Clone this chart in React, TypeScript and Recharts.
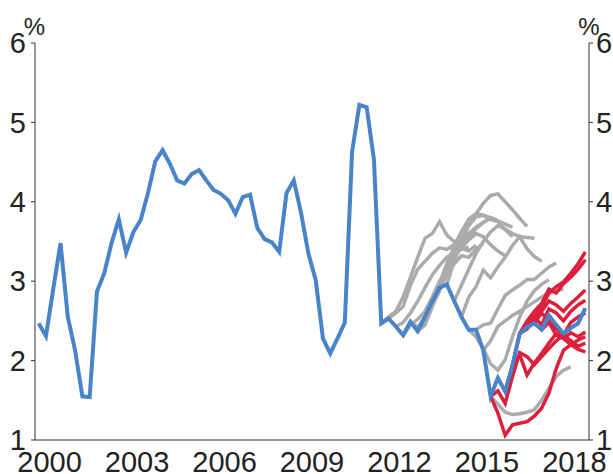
import { LineChart, Line, XAxis, YAxis } from 'recharts';

// year boundaries carry the tick marks, labels sit in the middle of the year
const yearTicks = [2000, 2001, 2002, 2003, 2004, 2005, 2006, 2007, 2008, 2009, 2010, 2011, 2012, 2013, 2014, 2015, 2016, 2017, 2018, 2019];
const yearLabels = [2000, 2003, 2006, 2009, 2012, 2015, 2018];
const valueTicks = [1, 2, 3, 4, 5, 6];

// quarterly outcome, 2000Q1 .. 2018Q4
const actual = [
  2.47, 2.31, 2.9, 3.48, 2.55, 2.13, 1.55, 1.54, 2.87, 3.1, 3.48, 3.78,
  3.36, 3.62, 3.77, 4.11, 4.51, 4.65, 4.48, 4.27, 4.23, 4.35, 4.4, 4.27,
  4.15, 4.1, 4.02, 3.85, 4.06, 4.09, 3.67, 3.53, 3.49, 3.37, 4.11, 4.27,
  3.86, 3.35, 3.02, 2.28, 2.09, 2.28, 2.48, 4.63, 5.22, 5.19, 4.53, 2.47,
  2.53, 2.43, 2.32, 2.49, 2.37, 2.55, 2.75, 2.92, 2.96, 2.75, 2.55, 2.39,
  2.39, 2.13, 1.55, 1.78, 1.61, 1.94, 2.34, 2.42, 2.47, 2.39, 2.57, 2.45,
  2.34, 2.41, 2.47, 2.66,
];

// older forecasts (grey), each starting from the quarter named
const grey2011Q4 = [2.47, 2.55, 2.62, 2.8, 3.05, 3.3, 3.54, 3.6, 3.75, 3.58, 3.5, 3.45];
const grey2012Q1 = [2.53, 2.6, 2.68, 2.95, 3.15, 3.25, 3.35, 3.42, 3.4, 3.46, 3.4, 3.43];
const grey2012Q2 = [2.43, 2.48, 2.6, 2.75, 2.92, 3.08, 3.2, 3.3, 3.36, 3.42, 3.38, 3.45];
const grey2012Q3 = [2.32, 2.45, 2.52, 2.62, 2.8, 3.0, 3.12, 3.22, 3.32, 3.3, 3.4, 3.48];
const grey2012Q4 = [2.49, 2.42, 2.55, 2.75, 2.98, 3.22, 3.38, 3.5, 3.6, 3.68, 3.74, 3.8];
const grey2013Q1 = [2.37, 2.45, 2.68, 2.88, 3.1, 3.3, 3.45, 3.56, 3.66, 3.74, 3.8, 3.76];
const grey2013Q2 = [2.55, 2.72, 2.9, 3.1, 3.3, 3.42, 3.52, 3.6, 3.56, 3.46, 3.38, 3.32];
const grey2013Q3 = [2.75, 2.95, 3.2, 3.45, 3.62, 3.78, 3.85, 3.83, 3.8, 3.76, 3.72, 3.68];
const grey2013Q4 = [2.92, 3.12, 3.35, 3.55, 3.7, 3.81, 3.83, 3.78, 3.75, 3.65, 3.56];
const grey2014Q1 = [2.96, 3.25, 3.5, 3.7, 3.85, 3.98, 4.08, 4.1, 4.0, 3.9, 3.79, 3.69];
const grey2014Q2 = [2.75, 2.95, 3.15, 3.35, 3.5, 3.62, 3.7, 3.66, 3.6, 3.56, 3.55, 3.54];
const grey2014Q3 = [2.55, 2.8, 2.93, 3.14, 3.04, 3.18, 3.3, 3.45, 3.56, 3.41, 3.31, 3.25];
const grey2014Q4 = [2.39, 2.3, 2.15, 1.96, 1.88, 2.01, 2.3, 2.55, 2.75, 2.88, 2.96, 3.02];
const grey2015Q1 = [2.39, 2.45, 2.47, 2.65, 2.82, 2.89, 2.95, 3.02, 3.02, 3.1, 3.18, 3.23];
const grey2015Q2 = [2.13, 2.25, 2.43, 2.5, 2.57, 2.62, 2.68, 2.74, 2.8, 2.85, 2.88, 2.9];
const grey2015Q3 = [1.55, 1.45, 1.35, 1.32, 1.33, 1.35, 1.38, 1.5, 1.65, 1.8, 1.88, 1.92];

// recent forecasts (red)
const red2015Q3a = [1.55, 1.34, 1.06, 1.19, 1.21, 1.23, 1.3, 1.4, 1.59, 1.9, 2.13, 2.2, 2.26, 2.3];
const red2015Q3b = [1.55, 1.62, 1.46, 1.8, 2.1, 2.05, 1.95, 2.05, 2.15, 2.25, 2.32, 2.25, 2.18, 2.22];
const red2016Q1 = [1.61, 1.94, 2.07, 1.82, 1.97, 2.09, 2.22, 2.34, 2.28, 2.2, 2.14, 2.11];
const red2016Q2 = [1.94, 2.35, 2.45, 2.55, 2.68, 2.85, 2.93, 2.99, 3.1, 3.22, 3.37];
const red2016Q3a = [2.34, 2.5, 2.62, 2.72, 2.9, 2.85, 2.97, 3.05, 3.15, 3.27];
const red2016Q3b = [2.34, 2.4, 2.52, 2.62, 2.75, 2.7, 2.62, 2.72, 2.8, 2.89];
const red2016Q4 = [2.42, 2.55, 2.45, 2.65, 2.6, 2.5, 2.62, 2.7, 2.76];
const red2017Q1 = [2.47, 2.6, 2.5, 2.4, 2.32, 2.48, 2.55, 2.6];
const red2017Q2 = [2.39, 2.48, 2.32, 2.28, 2.35, 2.3, 2.36];

const greyRuns: [string, number[]][] = [
  ['2011Q4', grey2011Q4], ['2012Q1', grey2012Q1], ['2012Q2', grey2012Q2], ['2012Q3', grey2012Q3],
  ['2012Q4', grey2012Q4], ['2013Q1', grey2013Q1], ['2013Q2', grey2013Q2], ['2013Q3', grey2013Q3],
  ['2013Q4', grey2013Q4], ['2014Q1', grey2014Q1], ['2014Q2', grey2014Q2], ['2014Q3', grey2014Q3],
  ['2014Q4', grey2014Q4], ['2015Q1', grey2015Q1], ['2015Q2', grey2015Q2], ['2015Q3', grey2015Q3],
];
const redRuns: [string, number[]][] = [
  ['2015Q3', red2015Q3a], ['2015Q3', red2015Q3b], ['2016Q1', red2016Q1], ['2016Q2', red2016Q2],
  ['2016Q3', red2016Q3a], ['2016Q3', red2016Q3b], ['2016Q4', red2016Q4], ['2017Q1', red2017Q1],
  ['2017Q2', red2017Q2],
];

const quarterIndex = (q: string) => (Number(q.slice(0, 4)) - 2000) * 4 + Number(q.slice(5)) - 1;

const rows = actual.map((v, i) => {
  const row: Record<string, number | null> = { x: 2000 + (i + 0.5) / 4, actual: v };
  greyRuns.forEach(([from, vals], k) => {
    const j = i - quarterIndex(from);
    row[`g${k}`] = j >= 0 && j < vals.length ? vals[j] : null;
  });
  redRuns.forEach(([from, vals], k) => {
    const j = i - quarterIndex(from);
    row[`r${k}`] = j >= 0 && j < vals.length ? vals[j] : null;
  });
  return row;
});

const AXIS = '#333';
const TEXT = '#222';
const tickStyle = { fontSize: 29, fill: TEXT };

export default function App() {
  return (
    <div
      style={{
        position: 'absolute',
        left: 0,
        top: 0,
        width: 613,
        height: 474,
        background: '#fff',
        fontFamily: 'Arial, "Liberation Sans", sans-serif',
      }}
    >
      <LineChart width={613} height={474} data={rows} margin={{ top: 43, right: 0, left: 0, bottom: 0 }}>
        <XAxis
          dataKey="x"
          type="number"
          domain={[2000, 2019]}
          allowDataOverflow
          ticks={yearTicks}
          tick={false}
          tickSize={5}
          height={6}
          stroke={AXIS}
        />
        <XAxis
          xAxisId="labels"
          dataKey="x"
          type="number"
          domain={[2000, 2019]}
          allowDataOverflow
          ticks={yearLabels.map((y) => y + 0.5)}
          tickFormatter={(v) => String(Math.floor(v))}
          axisLine={false}
          tickLine={false}
          tickSize={0}
          tickMargin={5}
          height={28}
          tick={tickStyle}
          interval={0}
        />
        <YAxis
          yAxisId="left"
          domain={[1, 6]}
          allowDataOverflow
          ticks={valueTicks}
          width={35}
          tickSize={4}
          tickMargin={5}
          tick={tickStyle}
          stroke={AXIS}
          interval={0}
          label={{ value: '%', position: 'top', offset: 8, dx: 17, fontSize: 24, fill: TEXT }}
        />
        <YAxis
          yAxisId="right"
          orientation="right"
          domain={[1, 6]}
          allowDataOverflow
          ticks={valueTicks}
          width={24}
          tickSize={4}
          tickMargin={3}
          tick={tickStyle}
          stroke={AXIS}
          interval={0}
          label={{ value: '%', position: 'top', offset: 8, dx: -12, fontSize: 24, fill: TEXT }}
        />
        {greyRuns.map((_, k) => (
          <Line
            key={`g${k}`}
            yAxisId="left"
            dataKey={`g${k}`}
            stroke="#ababab"
            strokeWidth={3.5}
            dot={false}
            isAnimationActive={false}
          />
        ))}
        {redRuns.map((_, k) => (
          <Line
            key={`r${k}`}
            yAxisId="left"
            dataKey={`r${k}`}
            stroke="#dc1f3d"
            strokeWidth={3.5}
            dot={false}
            isAnimationActive={false}
          />
        ))}
        <Line
          yAxisId="left"
          dataKey="actual"
          stroke="#4a84c8"
          strokeWidth={4}
          dot={false}
          isAnimationActive={false}
        />
      </LineChart>
    </div>
  );
}
